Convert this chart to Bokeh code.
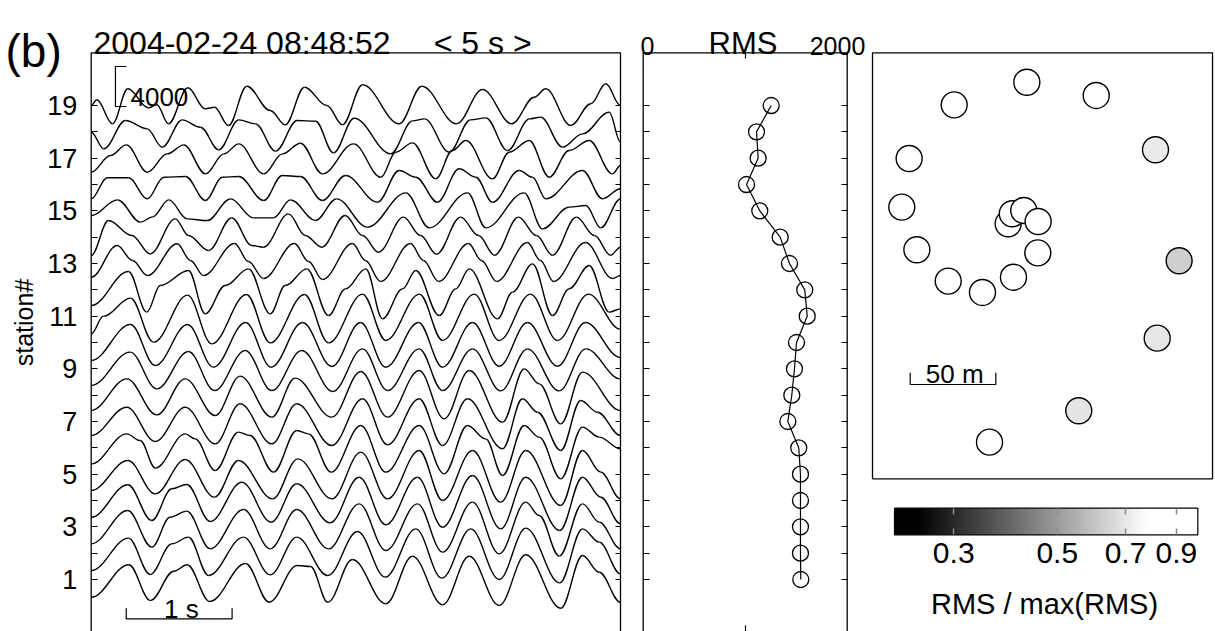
import math
import numpy as np
from bokeh.plotting import figure
from bokeh.models import (Range1d, FixedTicker, LinearAxis, LogAxis, Label, LogScale,
                          ColumnDataSource, LogColorMapper, NumeralTickFormatter)
from bokeh.layouts import row
from bokeh.embed import file_html
from bokeh.resources import INLINE

FONT = "Liberation Sans"

# ---------------- data ----------------
stations = list(range(1, 20))
rms = [1545, 1542, 1542, 1542, 1542, 1525, 1418, 1457, 1483, 1503,
       1608, 1584, 1434, 1343, 1143, 1013, 1127, 1111, 1255]

# waveform turning points per station: time [s], amplitude [counts]
t01 = [0.0, 0.355, 0.560, 0.780, 0.907, 1.120, 1.458, 1.681, 1.946, 2.072, 2.235, 2.468, 2.783, 3.035, 3.319, 3.571, 3.854, 4.105, 4.436, 4.641, 4.799, 5.0]
a01 = [-1770, 1470, -2100, 830, 1470, -2200, 1600, -2270, 1400, 1300, -2270, 2000, -2430, 2330, -2530, 2330, -2600, 2470, -2870, 2400, 730, -2270]
t02 = [0.0, 0.352, 0.557, 0.761, 0.919, 1.108, 1.439, 1.691, 1.942, 2.235, 2.516, 2.777, 3.066, 3.312, 3.586, 3.854, 4.105, 4.426, 4.641, 4.799, 5.0]
a02 = [-1730, 1500, -2130, 930, 1600, -2230, 1600, -2170, 1600, -2230, 2170, -2400, 2430, -2500, 2430, -2630, 2500, -2970, 2430, 1100, -2070]
t03 = [0.0, 0.346, 0.572, 0.746, 0.903, 1.124, 1.439, 1.691, 1.942, 2.242, 2.531, 2.783, 3.082, 3.319, 3.602, 3.854, 4.105, 4.232, 4.421, 4.641, 4.799, 5.0]
a03 = [-1700, 1630, -2030, 970, 1570, -2200, 1730, -2200, 1730, -2200, 2300, -2370, 2300, -2530, 2470, -2700, 2470, 1130, -2930, 2300, 470, -2200]
t04 = [0.0, 0.346, 0.572, 0.761, 0.903, 1.124, 1.423, 1.700, 1.942, 2.258, 2.531, 2.783, 3.082, 3.319, 3.602, 3.869, 4.105, 4.426, 4.641, 4.814, 5.0]
a04 = [-1670, 1570, -2000, 1170, 1600, -2100, 1830, -2170, 1670, -2230, 2330, -2430, 2330, -2670, 2500, -2830, 2330, -3000, 2330, 330, -2330]
t05 = [0.0, 0.346, 0.605, 0.888, 1.165, 1.391, 1.713, 1.952, 2.274, 2.547, 2.799, 3.098, 3.319, 3.602, 3.869, 4.105, 4.436, 4.641, 4.814, 5.0]
a05 = [-1630, 1370, -1970, 1470, -2300, 1370, -2470, 1530, -2470, 2200, -2470, 2370, -2630, 2370, -2800, 2370, -3130, 2370, 200, -2470]
t06 = [0.0, 0.336, 0.463, 0.605, 0.888, 0.982, 1.171, 1.391, 1.501, 1.722, 1.942, 2.053, 2.267, 2.547, 2.783, 3.098, 3.334, 3.554, 3.727, 3.886, 4.090, 4.232, 4.436, 4.641, 4.799, 5.0]
a06 = [-1600, 1400, 730, -2030, 1400, 900, -2270, 1570, 1230, -2430, 1730, 1400, -2430, 2230, -2430, 2230, -2600, 2230, 900, -2770, 2230, 1070, -3100, 2070, 1070, -100]
t07 = [0.0, 0.336, 0.605, 0.888, 1.171, 1.407, 1.706, 1.942, 2.273, 2.563, 2.799, 3.098, 3.319, 3.554, 3.886, 4.074, 4.216, 4.436, 4.624, 4.783, 5.0]
a07 = [-1400, 1430, -2000, 1430, -2230, 1770, -2230, 1770, -2400, 2270, -2330, 2270, -2400, 2270, -2730, 2270, 930, -2900, 2100, 930, -1400]
t08 = [0.0, 0.336, 0.620, 0.888, 1.171, 1.407, 1.706, 1.926, 2.273, 2.547, 2.799, 3.098, 3.334, 3.571, 3.886, 4.090, 4.232, 4.436, 4.641, 5.0]
a08 = [-1530, 1630, -1970, 1630, -2030, 1900, -2200, 1700, -2200, 2370, -2200, 2470, -2370, 2470, -2700, 2630, 1130, -2870, 2300, -1530]
t09 = [0.0, 0.368, 0.620, 0.919, 1.165, 1.455, 1.706, 1.989, 2.282, 2.563, 2.799, 3.098, 3.319, 3.602, 3.869, 4.121, 4.421, 4.672, 5.0]
a09 = [-1670, 1670, -2000, 1730, -2170, 1830, -2170, 1830, -2270, 2000, -2170, 2000, -2170, 2000, -2200, 2000, -2200, 2000, -1000]
t10 = [0.0, 0.371, 0.605, 0.910, 1.155, 1.458, 1.700, 1.996, 2.273, 2.544, 2.783, 3.092, 3.319, 3.602, 3.854, 4.121, 4.405, 4.669, 5.0]
a10 = [-1800, 1800, -2300, 1800, -2470, 2000, -2470, 2000, -2400, 2000, -2470, 2000, -2470, 2000, -2370, 2000, -2370, 2000, -1500]
t11 = [0.0, 0.116, 0.371, 0.589, 0.910, 1.139, 1.467, 1.691, 2.015, 2.242, 2.563, 2.783, 3.101, 3.319, 3.618, 3.854, 4.150, 4.405, 4.697, 5.0]
a11 = [-1770, 0, 1800, -2600, 2100, -2770, 2170, -2670, 2170, -2670, 2200, -2430, 2200, -2430, 2200, -2430, 2200, -2430, 2200, -1300]
t12 = [0.0, 0.352, 0.525, 0.652, 0.919, 1.077, 1.266, 1.486, 1.691, 1.833, 2.037, 2.242, 2.402, 2.594, 2.752, 2.941, 3.066, 3.287, 3.444, 3.571, 3.838, 3.980, 4.169, 4.358, 4.515, 4.704, 4.893, 5.0]
a12 = [-1570, 1830, -2230, 430, 1930, -2400, 430, 2100, -2400, 430, 2100, -2570, 100, 2100, -2900, 100, 1930, -2570, 100, 2100, -2900, -230, 2600, -2570, 100, 2430, -2230, -1900]
t13 = [0.0, 0.246, 0.390, 0.532, 0.812, 0.938, 1.061, 1.354, 1.486, 1.628, 1.920, 2.053, 2.185, 2.468, 2.591, 2.733, 3.016, 3.139, 3.281, 3.564, 3.687, 3.829, 4.121, 4.244, 4.367, 4.669, 4.925, 5.0]
a13 = [-1370, 1800, 300, -1200, 1970, 300, -1200, 2000, 200, -1500, 2000, 200, -1600, 2000, 300, -1800, 2000, 300, -1800, 2000, 300, -1800, 2100, 300, -1800, 2100, -1500, -1200]
t14 = [0.0, 0.163, 0.384, 0.557, 0.794, 0.919, 1.108, 1.328, 1.517, 1.628, 1.864, 2.022, 2.178, 2.399, 2.563, 2.714, 2.950, 3.111, 3.262, 3.489, 3.659, 3.810, 4.036, 4.206, 4.357, 4.584, 4.754, 4.906, 5.0]
a14 = [-1830, 1670, 170, -1670, 1830, 170, -1330, 1930, -830, -1000, 2330, 170, -1000, 2170, 170, -1500, 2000, 170, -1700, 2000, 170, -1800, 2000, 170, -1800, 2000, 170, -1800, -1000]
t15 = [0.0, 0.248, 0.466, 0.579, 0.733, 0.907, 1.096, 1.316, 1.533, 1.722, 1.883, 2.119, 2.317, 2.610, 2.972, 3.193, 3.555, 3.728, 4.090, 4.263, 4.515, 4.672, 4.814, 5.0]
a15 = [-470, 1100, -1130, -600, 1100, -800, -970, 1200, -700, -700, 1100, -970, 1200, -1630, 1800, -1700, 1800, -1700, 1800, -1800, 370, 530, -1700, 1200]
t16 = [0.0, 0.151, 0.355, 0.529, 0.686, 0.891, 1.080, 1.237, 1.394, 1.630, 1.804, 1.977, 2.185, 2.402, 2.705, 2.909, 3.066, 3.271, 3.476, 3.633, 3.791, 4.043, 4.169, 4.294, 4.641, 4.830, 5.0]
a16 = [-1430, 670, 670, -1430, 730, 800, -1600, 730, 800, -1600, 900, 800, -1600, 900, -1770, 1400, 730, -1770, 1570, 730, -1770, 1400, 730, -1430, 1400, -1430, -430]
t17 = [0.0, 0.182, 0.333, 0.529, 0.718, 0.875, 1.080, 1.253, 1.394, 1.630, 1.807, 1.977, 2.185, 2.478, 2.736, 2.877, 3.035, 3.255, 3.412, 3.539, 3.791, 3.949, 4.138, 4.326, 4.515, 4.704, 4.924, 5.0]
a17 = [-1400, 270, 1330, -1400, 430, 1330, -1570, 430, 1430, -1570, 430, 1500, -1570, 1430, -1900, 600, 1530, -2070, 770, 1770, -2070, 600, 1770, -1900, 770, 1770, -1570, -730]
t18 = [0.0, 0.119, 0.324, 0.529, 0.671, 0.860, 1.032, 1.205, 1.394, 1.552, 1.741, 1.946, 2.119, 2.289, 2.484, 2.830, 3.035, 3.149, 3.382, 3.583, 3.728, 3.933, 4.140, 4.247, 4.452, 4.641, 4.893, 5.0]
a18 = [-40, -1700, 1130, 300, -1540, 1200, 460, -1800, 1200, 800, -1940, 1130, 1060, -2100, 1360, -2200, 1100, 1300, -2030, 1200, 1400, -1870, 1300, 1470, -1530, -200, 1970, -1030]
t19 = [0.0, 0.053, 0.201, 0.346, 0.541, 0.620, 0.730, 0.913, 1.077, 1.165, 1.297, 1.470, 1.691, 1.833, 2.015, 2.226, 2.374, 2.563, 2.910, 3.123, 3.451, 3.696, 3.973, 4.185, 4.294, 4.531, 4.719, 4.861, 5.0]
a19 = [0, 570, -1830, 1670, -230, 70, -1830, 1770, -330, -170, -2000, 1930, -500, -1930, 1830, 0, -1930, 2070, -1830, 1930, -1830, 1600, -1830, 830, 1670, -2000, 170, 2170, 0]

# station map positions [m] (station 1..19)
map_x = [79.2, 81.6, 88.3, 96.7, 96.5, 82.3, 64.2, 44.2, 25.9, 17.1,
         21.4, 47.7, 90.1, 130.6, 165.2, 179.0, 166.2, 120.4, 68.3]
map_y = [148.9, 154.7, 156.6, 150.2, 131.9, 117.7, 108.8, 115.4, 133.7, 158.6,
         187.0, 218.3, 231.5, 223.8, 192.1, 127.3, 82.1, 39.7, 21.4]

title_text = "2004-02-24 08:48:52"
window_text = "< 5 s >"
window_s = 5.0
rms_max_axis = 2000
amp_bar_counts = 4000
time_bar_s = 1.0
map_bar_m = 50
cbar_ticks = [0.3, 0.5, 0.7, 0.9]
cbar_range = (0.224, 1.0)

# ---------------- layout / style constants ----------------
COUNTS_PER_STATION = 2633.0
TOP = 21.0                     # station coordinate of the panel top border
YR = (-0.975, 22.988)          # visible station range (canvas)
H = 631

def base_fig(**kw):
    p = figure(output_backend="svg", toolbar_location=None,
               x_axis_location=None, y_axis_location=None,
               min_border_left=0, min_border_right=0, min_border_top=0, min_border_bottom=0,
               height=H, **kw)
    p.grid.visible = False
    p.outline_line_color = None
    p.background_fill_color = "white"
    p.border_fill_color = "white"
    return p

def tick_axis(cls, loc, ticks, tick_in=6, **kw):
    # border ticks only: labels switched off (no text drawn)
    args = dict(ticker=FixedTicker(ticks=ticks), fixed_location=loc,
                major_tick_in=tick_in, major_tick_out=0, minor_tick_line_color=None,
                axis_line_color=None, major_tick_line_color="black", major_tick_line_width=1.2,
                major_label_text_color=None, major_label_standoff=0)
    args.update(kw)
    return cls(**args)

def label(p, x, y, text, size, align="left", **kw):
    p.add_layout(Label(x=x, y=y, text=text, text_font=FONT, text_font_size=size,
                       text_color="black", text_baseline=kw.pop("baseline", "alphabetic"),
                       text_align=align, **kw))

# ---------------- panel 1: waveforms ----------------
p1 = base_fig(width=632, x_range=Range1d(-0.8568, 5.1134), y_range=Range1d(*YR))

traces = [(1, t01, a01), (2, t02, a02), (3, t03, a03), (4, t04, a04), (5, t05, a05),
          (6, t06, a06), (7, t07, a07), (8, t08, a08), (9, t09, a09), (10, t10, a10),
          (11, t11, a11), (12, t12, a12), (13, t13, a13), (14, t14, a14), (15, t15, a15),
          (16, t16, a16), (17, t17, a17), (18, t18, a18), (19, t19, a19)]
K = 0.364
seg = {k: [] for k in ("x0", "y0", "x1", "y1", "cx0", "cy0", "cx1", "cy1")}
for s, ts, am in traces:
    for i in range(len(ts) - 1):
        x0, x1 = ts[i], ts[i + 1]
        y0 = s + am[i] / COUNTS_PER_STATION
        y1 = s + am[i + 1] / COUNTS_PER_STATION
        d = x1 - x0
        seg["x0"].append(x0); seg["y0"].append(y0)
        seg["x1"].append(x1); seg["y1"].append(y1)
        seg["cx0"].append(x0 + K * d); seg["cy0"].append(y0)
        seg["cx1"].append(x1 - K * d); seg["cy1"].append(y1)
p1.bezier(x0="x0", y0="y0", x1="x1", y1="y1", cx0="cx0", cy0="cy0", cx1="cx1", cy1="cy1",
          source=ColumnDataSource(seg), line_color="black", line_width=1.4)

# panel border (open at the bottom, like the cropped original)
p1.line([0, 0, window_s, window_s], [YR[0], TOP, TOP, YR[0]], line_color="black", line_width=1.3)

odd = [s for s in stations if s % 2]
even = [s for s in stations if not s % 2]
yl = tick_axis(LinearAxis, 0, odd,
               major_label_text_font=FONT, major_label_text_font_size="27px",
               major_label_text_color="black", major_label_standoff=14)
p1.add_layout(yl, "left")
p1.add_layout(tick_axis(LinearAxis, 0, even), "left")
p1.add_layout(tick_axis(LinearAxis, window_s, stations, tick_in=5), "right")
p1.add_layout(Label(x=-0.635, y=10.76, text="station#", text_font=FONT, text_font_size="25px",
                    text_color="black", text_align="center", text_baseline="middle",
                    angle=math.pi / 2))

# scale bars
yb = 18.962
yt = yb + amp_bar_counts / COUNTS_PER_STATION
p1.line([0.333, 0.229, 0.229, 0.333], [yt, yt, yb, yb], line_color="black", line_width=1.2)
label(p1, 0.371, 19.342, str(amp_bar_counts), "26px")
xb0 = 0.331
p1.line([xb0, xb0, xb0 + time_bar_s, xb0 + time_bar_s], [-0.089, -0.493, -0.493, -0.089],
        line_color="black", line_width=1.2)
label(p1, xb0 + time_bar_s / 2 + 0.02, -0.139, "1 s", "26px", align="center")

label(p1, -0.8096, 21.077, "(b)", "46px")
label(p1, 0.022, 21.366, title_text, "32px")
label(p1, 3.698, 21.366, window_text, "32px", align="center")

# ---------------- panel 2: RMS ----------------
p2 = base_fig(width=238, x_range=Range1d(-104.9, 2228.5), y_range=Range1d(*YR))
p2.line([0, 0, rms_max_axis, rms_max_axis], [YR[0], TOP, TOP, YR[0]], line_color="black", line_width=1.3)
p2.line(rms, stations, line_color="black", line_width=1.2)
p2.scatter(rms, stations, size=16, marker="circle", fill_color=None,
           line_color="black", line_width=1.3)
p2.add_layout(tick_axis(LinearAxis, 0, stations), "left")
p2.add_layout(tick_axis(LinearAxis, rms_max_axis, stations), "right")
p2.add_layout(tick_axis(LinearAxis, TOP, [rms_max_axis / 2]), "above")
p2.add_layout(tick_axis(LinearAxis, YR[0], [rms_max_axis / 2]), "below")
label(p2, 42, 21.277, "0", "25px", align="center")
label(p2, 978, 21.366, "RMS", "31px", align="center")
label(p2, 1905, 21.277, str(rms_max_axis), "25px", align="center")

# ---------------- panel 3: map + colour bar ----------------
grays = ["#%02x%02x%02x" % (v, v, v) for v in range(256)]
mapper = LogColorMapper(palette=grays, low=0.25, high=0.78,
                        low_color="#000000", high_color="#ffffff")
rmax = max(rms)
ratio = [r / rmax for r in rms]

MAP_W, MAP_H = 198.5, 248.7   # map box extent [m]
p3 = base_fig(width=345, x_range=Range1d(-1.168, 200.23), y_range=Range1d(-89.14, 279.22))
p3.extra_x_ranges = {"cb": Range1d(0.1990, 1.0912)}
p3.extra_x_scales = {"cb": LogScale()}

p3.line([0, 0, MAP_W, MAP_W, 0], [0, MAP_H, MAP_H, 0, 0], line_color="black", line_width=1.3)
msrc = ColumnDataSource(dict(x=map_x, y=map_y, ratio=ratio, st=stations))
p3.scatter("x", "y", source=msrc, size=26, marker="circle",
           fill_color={"field": "ratio", "transform": mapper},
           line_color="black", line_width=1.4)
mb0 = 22.0
p3.line([mb0, mb0, mb0 + map_bar_m, mb0 + map_bar_m], [61.9, 55.05, 55.05, 61.9],
        line_color="black", line_width=1.2)
label(p3, mb0 + map_bar_m / 2 + 1, 61.3, "%d m" % map_bar_m, "26px", align="center")

CB_TOP, CB_BOT = -17.16, -32.69
grad = np.geomspace(cbar_range[0], cbar_range[1], 600).reshape(1, -1)
p3.image(image=[grad], x=cbar_range[0], y=CB_BOT, dw=cbar_range[1] - cbar_range[0],
         dh=CB_TOP - CB_BOT, color_mapper=mapper, x_range_name="cb")
p3.line([cbar_range[0], cbar_range[1], cbar_range[1], cbar_range[0], cbar_range[0]],
        [CB_TOP, CB_TOP, CB_BOT, CB_BOT, CB_TOP], line_color="black", line_width=1.2,
        x_range_name="cb")
cax = tick_axis(LogAxis, CB_BOT, cbar_ticks, x_range_name="cb",
                formatter=NumeralTickFormatter(format="0.0"),
                major_tick_line_color="#8a8a8a", major_tick_line_width=1.5,
                major_label_text_font=FONT, major_label_text_font_size="30px",
                major_label_text_color="black", major_label_standoff=8)
p3.add_layout(cax, "below")
cax2 = tick_axis(LogAxis, CB_TOP, cbar_ticks, x_range_name="cb",
                 major_tick_line_color="#8a8a8a", major_tick_line_width=1.5)
p3.add_layout(cax2, "above")
p3.add_layout(Label(x=0.4695, y=-72.97, text="RMS / max(RMS)", text_font=FONT,
                    text_font_size="29px", text_color="black", text_baseline="alphabetic",
                    text_align="center", x_range_name="cb"))

layout = row(p1, p2, p3)
open("out.html", "w").write(file_html(layout, INLINE))
